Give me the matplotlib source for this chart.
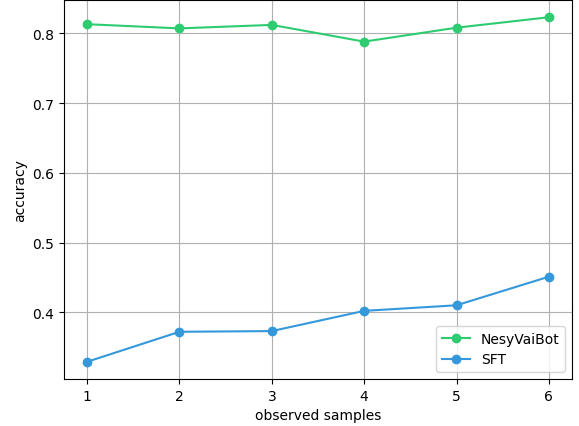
import matplotlib
matplotlib.use('Agg')
import matplotlib.pyplot as plt

samples = [1, 2, 3, 4, 5, 6]
nesy_acc = [0.813, 0.807, 0.812, 0.788, 0.808, 0.823]
sft_acc = [0.329, 0.372, 0.373, 0.402, 0.410, 0.451]

fig, ax = plt.subplots(figsize=(5.79, 4.27), dpi=100)
fig.subplots_adjust(left=64 / 579, right=572 / 579, top=1 - 1 / 427, bottom=1 - 380 / 427)

ax.plot(samples, nesy_acc, marker='o', color='#2ecc71', label='NesyVaiBot')
ax.plot(samples, sft_acc, marker='o', color='#3498db', label='SFT')

ax.set_xlabel('observed samples')
ax.set_ylabel('accuracy')
ax.grid(True)
ax.legend(loc='lower right')

plt.savefig('out.png')
